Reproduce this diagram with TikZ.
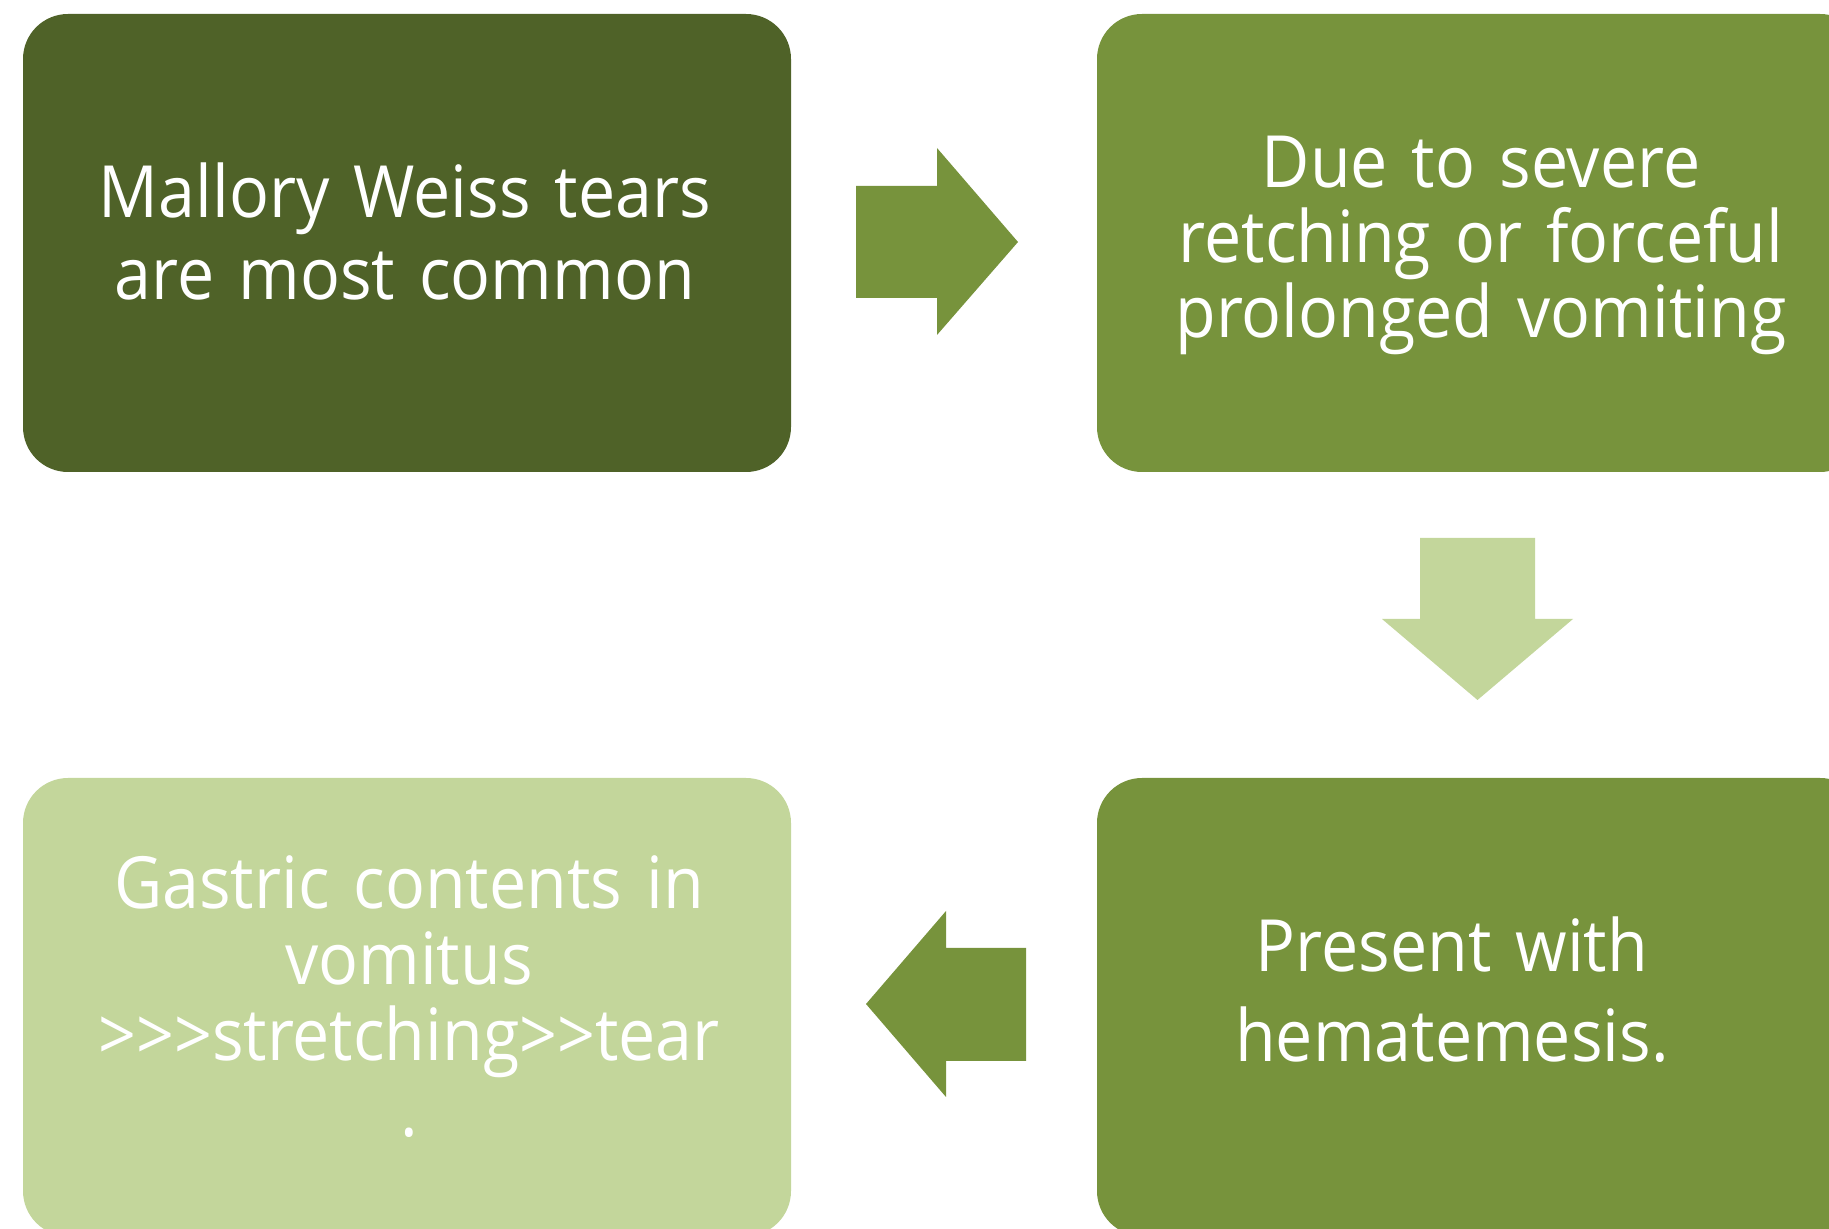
\documentclass[tikz,border=0pt]{standalone}
\usepackage{fontspec}
\setmainfont{Open Sans}[FakeStretch=0.92]
\usepackage{tikz}
\definecolor{MyDarkGreen}{HTML}{4F6228}
\definecolor{MyGreen}{HTML}{77933C}
\definecolor{MyLightGreen}{HTML}{C3D69B}
\tikzset{
	box/.style={rectangle, rounded corners=0.45cm, minimum width=7.68cm, minimum height=4.58cm, inner sep=0pt},
	boxtext/.style={text=white, text width=7.4cm, align=center, anchor=base, inner sep=0pt,
		font=\fontsize{20.5}{#1}\selectfont}
}

\begin{document}
\begin{tikzpicture}
		\useasboundingbox (0,0) rectangle (18.29,12.29);
		\clip (0,0) rectangle (18.29,12.29);
		
		% boxes
		\node[box, fill=MyDarkGreen] (mallory) at (4.07, 9.86) {};
		\node[box, fill=MyGreen] (cause) at (14.81, 9.86) {};
		\node[box, fill=MyGreen] (present) at (14.81, 2.22) {};
		\node[box, fill=MyLightGreen] (gastric) at (4.07, 2.22) {};
		
		% texts
		\node[boxtext=23.3pt] (malloryText) at (4.05, 10.11) {Mallory Weiss tears\\are most common};
		\node[boxtext=21.3pt] (causeText) at (14.81, 10.41) {Due to severe\\retching or forceful\\prolonged vomiting};
		\node[boxtext=25.6pt] (presentText) at (14.52, 2.57) {Present with\\hematemesis.};
		\node[boxtext=21.6pt] (gastricText) at (4.09, 3.20) {Gastric contents in\\vomitus\\>\kern0pt>\kern0pt>stretching>\kern0pt>tear\\.};
		
		% arrows
		\fill[MyGreen] (8.56, 10.43) -- (9.37, 10.43) -- (9.37, 10.81) -- (10.18, 9.87)
			-- (9.37, 8.94) -- (9.37, 9.31) -- (8.56, 9.31) -- cycle;
		
		\fill[MyLightGreen] (14.20, 6.91) -- (15.35, 6.91) -- (15.35, 6.10) -- (15.73, 6.10)
			-- (14.775, 5.29) -- (13.82, 6.10) -- (14.20, 6.10) -- cycle;
		
		\fill[MyGreen] (10.26, 2.81) -- (9.46, 2.81) -- (9.46, 3.18) -- (8.66, 2.25)
			-- (9.46, 1.32) -- (9.46, 1.68) -- (10.26, 1.68) -- cycle;
		
	\end{tikzpicture}
\end{document}
